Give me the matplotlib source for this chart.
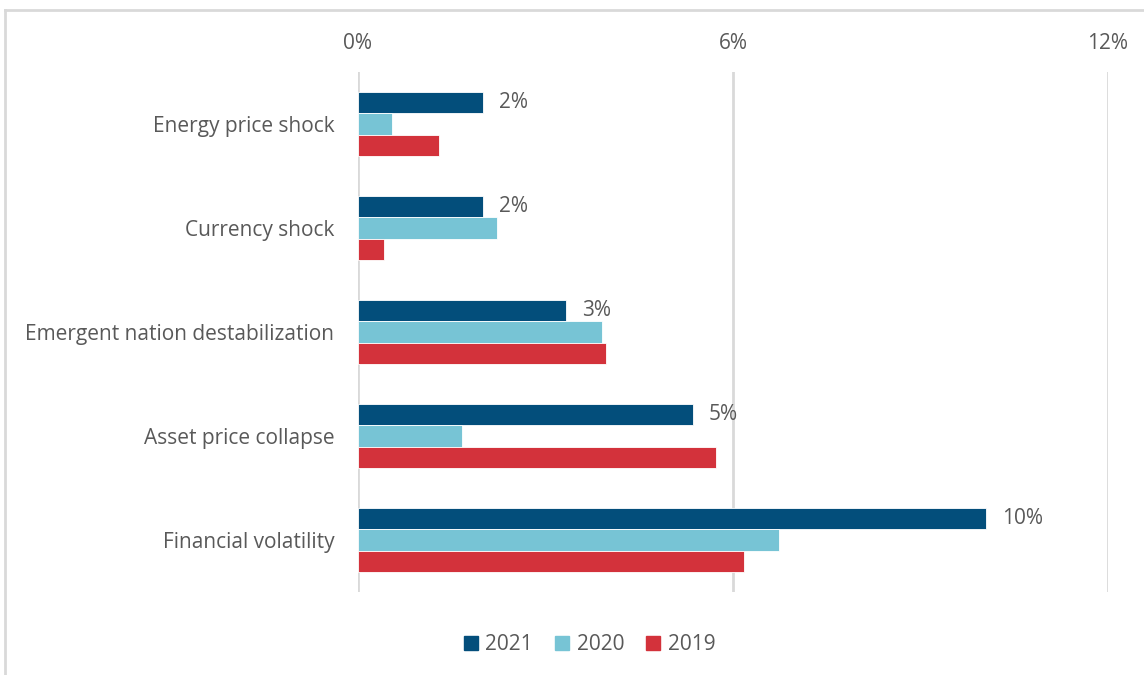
import matplotlib.pyplot as plt
import numpy as np
from matplotlib.lines import Line2D

plt.rcParams['font.family'] = ['Open Sans', 'DejaVu Sans']

categories = ["Energy price shock", "Currency shock", "Emergent nation destabilization",
              "Asset price collapse", "Financial volatility"]
years = ["2021", "2020", "2019"]
vals_2021 = [2.0, 2.0, 3.33, 5.36, 10.05]
vals_2020 = [0.54, 2.22, 3.9, 1.66, 6.74]
vals_2019 = [1.3, 0.42, 3.97, 5.73, 6.18]
colors = ["#034e7b", "#77c4d5", "#d3323b"]
ticks = [0, 6, 12]

text_col = "#595959"
fs = 15

fig = plt.figure(figsize=(11.44, 6.75), dpi=100)
ax = fig.add_axes([0.3129, 0.123, 0.6556, 0.7703])

y = np.arange(len(categories))
h = 0.207
for i, (vals, c) in enumerate(zip([vals_2021, vals_2020, vals_2019], colors)):
    ax.barh(y + (i - 1) * h, vals, height=h, color=c, edgecolor="white", linewidth=0.6, zorder=3, label=years[i])

for yy, v in zip(y, vals_2021):
    ax.text(v + 0.25, yy - h, f"{round(v)}%", va="center", ha="left", fontsize=fs, color=text_col)

ax.set_xlim(0, 12)
ax.set_ylim(len(categories) - 0.5, -0.5)
ax.set_xticks(ticks)
ax.set_xticklabels([f"{t}%" for t in ticks])
ax.xaxis.tick_top()
ax.tick_params(axis="x", length=0, pad=13, labelsize=fs, labelcolor=text_col)
ax.set_yticks(y)
ax.set_yticklabels(categories)
ax.tick_params(axis="y", length=0, pad=17, labelsize=fs, labelcolor=text_col)
ax.grid(axis="x", color="#d9d9d9", linewidth=2, zorder=0)
for s in ax.spines.values():
    s.set_visible(False)

handles = [Line2D([], [], marker="s", linestyle="none", markersize=10, color=c) for c in colors]
fig.legend(handles, years, loc="center", bbox_to_anchor=(0.513, 0.045), ncol=3, frameon=False,
           fontsize=fs, labelcolor=text_col, handletextpad=0.1, columnspacing=0.8, handlelength=1.2)

# outer frame of the chart area
fig.add_artist(Line2D([5 / 1144, 1.0], [1 - 10 / 675, 1 - 10 / 675], color="#d9d9d9", linewidth=2, transform=fig.transFigure))
fig.add_artist(Line2D([5 / 1144, 5 / 1144], [0.0, 1 - 10 / 675], color="#d9d9d9", linewidth=2, transform=fig.transFigure))

fig.savefig("out.png", dpi=100)
